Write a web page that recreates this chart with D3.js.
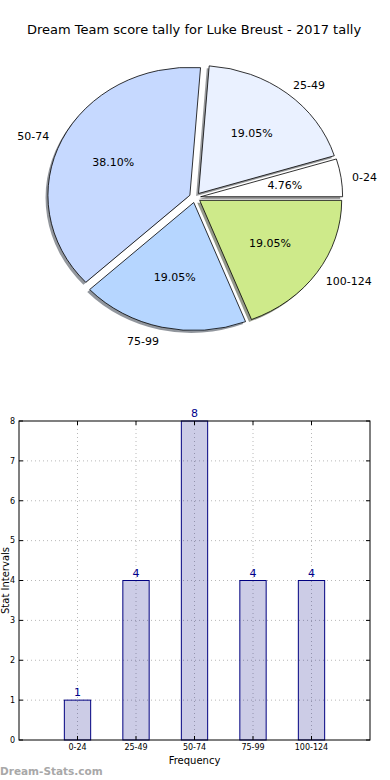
<!DOCTYPE html>
<html><head><meta charset="utf-8">
<script src="https://cdn.jsdelivr.net/npm/d3@7"></script>
<style>body{margin:0;background:#fff}svg{display:block;font-family:"DejaVu Sans",sans-serif}</style>
</head><body><svg id="c" width="390" height="780"></svg>
<script>
const categories = ["0-24","25-49","50-74","75-99","100-124"];
const counts = [1,4,8,4,4];
const pieColors = ["#ffffff","#eaf1ff","#c6d9ff","#b6d6ff","#ceea8a"];
const yTicks = [0,1,2,3,4,5,6,7,8];
const titleText = "Dream Team score tally for Luke Breust - 2017 tally";

const svg = d3.select("#c");
svg.append("text").attr("x",194).attr("y",34).attr("text-anchor","middle")
  .attr("font-size",13).attr("fill","#000").text(titleText);

// ---- Pie (elliptical, matplotlib style, counterclockwise from 0°) ----
const cx = 195, cy = 197.5, Rx = 142, Ry = 128, expl = 0.04;
const total = d3.sum(counts);
const pie = d3.pie().sort(null).value(d=>d)
  .startAngle(Math.PI/2).endAngle(Math.PI/2 - 2*Math.PI);
const arcs = pie(counts);
const arcGen = d3.arc().innerRadius(0).outerRadius(1);
function mathMid(a){ const m=(a.startAngle+a.endAngle)/2; return Math.PI/2 - m; }
const gP = svg.append("g");
function slicePath(a){
  return arcGen({startAngle:Math.min(a.startAngle,a.endAngle), endAngle:Math.max(a.startAngle,a.endAngle)});
}
arcs.forEach((a,i)=>{
  const t = mathMid(a);
  const ox = cx + expl*Rx*Math.cos(t) - 2.4, oy = cy - expl*Ry*Math.sin(t) + 2.4;
  const c = d3.rgb(pieColors[i]);
  gP.append("path").attr("d",slicePath(a))
    .attr("transform",`translate(${ox},${oy}) scale(${Rx},${Ry})`)
    .attr("fill",d3.rgb(c.r*0.3,c.g*0.3,c.b*0.3)).attr("fill-opacity",0.55);
});
arcs.forEach((a,i)=>{
  const t = mathMid(a);
  const ox = cx + expl*Rx*Math.cos(t), oy = cy - expl*Ry*Math.sin(t);
  gP.append("path").attr("d",slicePath(a))
    .attr("transform",`translate(${ox},${oy}) scale(${Rx},${Ry})`)
    .attr("fill",pieColors[i]).attr("stroke","#000").attr("stroke-width",0.8)
    .attr("vector-effect","non-scaling-stroke");
  const lx = ox + 1.1*Rx*Math.cos(t), ly = oy - 1.1*Ry*Math.sin(t);
  gP.append("text").attr("x",lx - (Math.cos(t)>=0?3:0)).attr("y",ly+1.5).attr("dy","0.35em")
    .attr("text-anchor", Math.cos(t)>=0 ? "start":"end")
    .attr("font-size",11).text(categories[i]);
  const px = ox + 0.6*Rx*Math.cos(t), py = oy - 0.6*Ry*Math.sin(t);
  gP.append("text").attr("x",px).attr("y",py).attr("dy","0.35em")
    .attr("text-anchor","middle").attr("font-size",11)
    .text((counts[i]/total*100).toFixed(2)+"%");
});

// ---- Bar chart ----
const L=19, R=370, T=421, B=740;
const x = d3.scaleLinear().domain([0,6]).range([L,R]);
const y = d3.scaleLinear().domain([0,8]).range([B,T]);
const gB = svg.append("g");
const grid = "#b8b8b8";
yTicks.forEach(v=>{
  if(v===0||v===8) return;
  gB.append("line").attr("x1",L).attr("x2",R).attr("y1",y(v)).attr("y2",y(v))
    .attr("stroke",grid).attr("stroke-dasharray","1,3");
});
categories.forEach((c,i)=>{
  gB.append("line").attr("x1",x(i+1)).attr("x2",x(i+1)).attr("y1",T).attr("y2",B)
    .attr("stroke",grid).attr("stroke-dasharray","1,3");
});
const bw = 0.45;
categories.forEach((c,i)=>{
  const x0 = x(i+1-bw/2), x1 = x(i+1+bw/2);
  gB.append("rect").attr("x",x0).attr("y",y(counts[i])).attr("width",x1-x0)
    .attr("height",y(0)-y(counts[i])).attr("fill","#000080").attr("fill-opacity",0.2);
  gB.append("rect").attr("x",x0).attr("y",y(counts[i])).attr("width",x1-x0)
    .attr("height",y(0)-y(counts[i])).attr("fill","none").attr("stroke","#000080").attr("stroke-width",1);
  gB.append("text").attr("x",x(i+1)).attr("y",y(counts[i])-4).attr("text-anchor","middle")
    .attr("font-size",11).attr("fill","#00008b").text(counts[i]);
});
gB.append("rect").attr("x",L).attr("y",T).attr("width",R-L).attr("height",B-T)
  .attr("fill","none").attr("stroke","#000").attr("stroke-width",1);
yTicks.forEach(v=>{
  gB.append("line").attr("x1",L).attr("x2",L+4).attr("y1",y(v)).attr("y2",y(v)).attr("stroke","#000");
  gB.append("line").attr("x1",R-4).attr("x2",R).attr("y1",y(v)).attr("y2",y(v)).attr("stroke","#000");
  gB.append("text").attr("x",L-4).attr("y",y(v)).attr("dy","0.35em").attr("text-anchor","end")
    .attr("font-size",8).text(v);
});
categories.forEach((c,i)=>{
  gB.append("line").attr("x1",x(i+1)).attr("x2",x(i+1)).attr("y1",B).attr("y2",B-4).attr("stroke","#000");
  gB.append("line").attr("x1",x(i+1)).attr("x2",x(i+1)).attr("y1",T).attr("y2",T+4).attr("stroke","#000");
  gB.append("text").attr("x",x(i+1)).attr("y",B+10).attr("text-anchor","middle")
    .attr("font-size",8).text(c);
});
gB.append("text").attr("x",(L+R)/2).attr("y",764).attr("text-anchor","middle")
  .attr("font-size",10).text("Frequency");
gB.append("text").attr("transform",`translate(9,${(T+B)/2}) rotate(-90)`).attr("text-anchor","middle")
  .attr("font-size",10).text("Stat Intervals");
svg.append("text").attr("x",0).attr("y",775).attr("font-size",10.5).attr("font-weight","bold")
  .attr("fill","#a8a8a8").text("Dream-Stats.com");
</script></body></html>
